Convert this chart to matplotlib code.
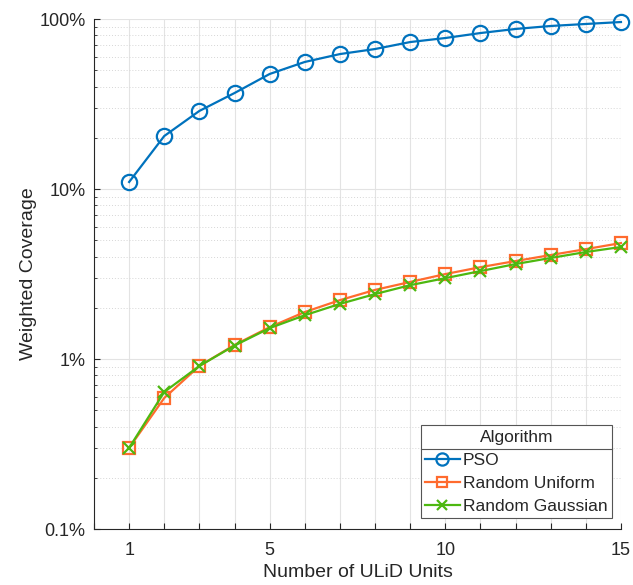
#!/usr/bin/env python3
"""
Weighted coverage vs. number of ULiD units for the placement algorithms
"""

import matplotlib
matplotlib.use("Agg")
import matplotlib.pyplot as plt
from matplotlib.ticker import FixedLocator, LogLocator, NullFormatter, FuncFormatter
from matplotlib.lines import Line2D

units = list(range(1, 16))

# weighted coverage in percent
pso = [11.0, 20.5, 28.8, 36.7, 47.5, 55.9, 62.2, 66.6, 73.2, 77.3, 82.7, 87.4, 91.0, 93.5, 96.0]
random_uniform = [0.30, 0.59, 0.91, 1.21, 1.54, 1.89, 2.22, 2.55, 2.84, 3.16, 3.47, 3.77, 4.09, 4.43, 4.81]
random_gaussian = [0.30, 0.64, 0.91, 1.20, 1.52, 1.81, 2.11, 2.41, 2.72, 2.99, 3.29, 3.62, 3.93, 4.26, 4.56]

x_labels = {1: "1", 5: "5", 10: "10", 15: "15"}
y_ticks = [0.1, 1, 10, 100]
y_labels = ["0.1%", "1%", "10%", "100%"]

TEXT = "#262626"
plt.rcParams['font.family'] = ['Liberation Sans', 'DejaVu Sans']
plt.rcParams['text.color'] = TEXT
plt.rcParams['axes.labelcolor'] = TEXT
plt.rcParams['xtick.color'] = TEXT
plt.rcParams['ytick.color'] = TEXT

fig = plt.figure(figsize=(6.33, 5.85), dpi=100)
ax = fig.add_axes([0.1485, 0.0957, 0.8325, 0.8718])

style = dict(linewidth=1.6, markeredgewidth=1.6, clip_on=False)
ax.plot(units, pso, '-o', color='#0072BD', markersize=11,
        markerfacecolor='none', label='PSO', **style)
ax.plot(units, random_uniform, '-s', color='#FF6B2E', markersize=8.5,
        markerfacecolor='none', label='Random Uniform', **style)
ax.plot(units, random_gaussian, '-x', color='#4DB810', markersize=8.5,
        label='Random Gaussian', **style)

ax.set_yscale('log')
ax.set_ylim(0.1, 100)
ax.set_xlim(0, 15)

ax.set_yticks(y_ticks)
ax.set_yticklabels(y_labels)
ax.yaxis.set_minor_locator(LogLocator(base=10, subs=range(2, 10)))
ax.yaxis.set_minor_formatter(NullFormatter())

ax.xaxis.set_major_locator(FixedLocator(list(range(0, 16))))
ax.xaxis.set_major_formatter(FuncFormatter(lambda v, p: x_labels.get(int(round(v)), "")))

ax.tick_params(axis='both', which='major', direction='in', length=4, width=0.8,
               labelsize=13)
ax.tick_params(axis='y', which='major', pad=6)
ax.tick_params(axis='x', which='major', pad=9)
ax.tick_params(axis='y', which='minor', direction='in', length=2.5, width=0.6)

ax.grid(True, which='major', color='#e3e3e3', linewidth=0.8, linestyle='-')
ax.grid(True, which='minor', axis='y', color='#d6d6d6', linewidth=0.7, linestyle=(0, (1, 2)))
ax.set_axisbelow(True)

for side in ('top', 'right'):
    ax.spines[side].set_visible(False)
for side in ('left', 'bottom'):
    ax.spines[side].set_color(TEXT)
    ax.spines[side].set_linewidth(0.8)

ax.set_xlabel('Number of ULiD Units', fontsize=14, labelpad=4)
ax.set_ylabel('Weighted Coverage', fontsize=14, labelpad=2)

leg_fs = 12.5
leg_spacing = 0.45
leg = ax.legend(title='Algorithm', loc='lower right', bbox_to_anchor=(0.983, 0.0215),
                fontsize=leg_fs, title_fontsize=leg_fs, fancybox=False, framealpha=1,
                edgecolor='#555555', handlelength=2.0, handletextpad=0.2,
                borderpad=0.25, labelspacing=leg_spacing, borderaxespad=0,
                markerscale=0.8)
leg.get_frame().set_linewidth(0.8)

# separator under the legend title
fig.canvas.draw()
frame = leg.get_frame().get_window_extent()
title_box = leg.get_title().get_window_extent()
y_sep = title_box.y0 - leg_spacing * leg_fs * fig.dpi / 72 / 2
inv = fig.transFigure.inverted()
(x0, ys), (x1, _) = inv.transform([(frame.x0, y_sep), (frame.x1, y_sep)])
fig.add_artist(Line2D([x0, x1], [ys, ys], transform=fig.transFigure,
                      color='#555555', linewidth=0.8))

fig.savefig('out.png', dpi=100)
